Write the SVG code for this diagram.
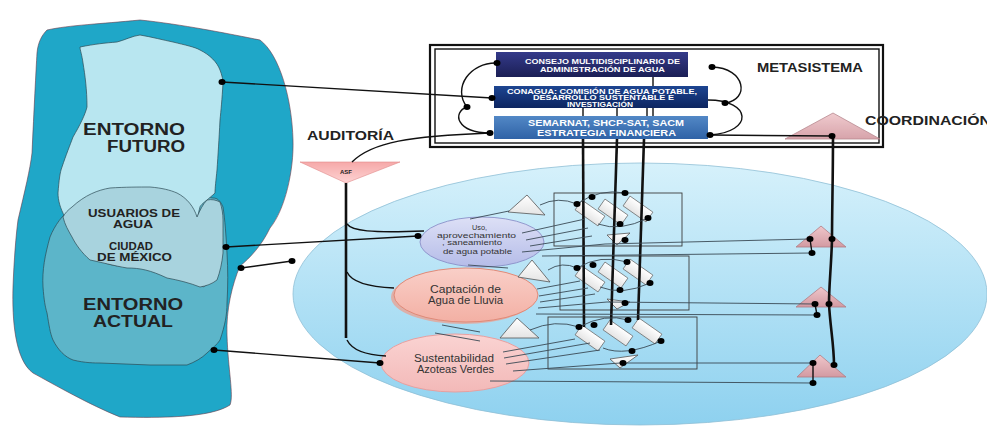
<svg xmlns="http://www.w3.org/2000/svg" width="987" height="427" viewBox="0 0 987 427">
<defs>
<linearGradient id="gBig" x1="0" y1="0" x2="0" y2="1"><stop offset="0" stop-color="#d6f1fb"/><stop offset="1" stop-color="#8ed1ef"/></linearGradient>
<linearGradient id="gE1" x1="0" y1="0" x2="0" y2="1"><stop offset="0" stop-color="#dde0f6"/><stop offset="1" stop-color="#b5bce8"/></linearGradient>
<linearGradient id="gE2" x1="0" y1="0" x2="0" y2="1"><stop offset="0" stop-color="#f9cfc8"/><stop offset="1" stop-color="#f3b0a4"/></linearGradient>
<linearGradient id="gE3" x1="0" y1="0" x2="0" y2="1"><stop offset="0" stop-color="#fad3d2"/><stop offset="1" stop-color="#f3b9b8"/></linearGradient>
<linearGradient id="gPink" x1="0" y1="0" x2="0" y2="1"><stop offset="0" stop-color="#efc6ca"/><stop offset="1" stop-color="#d39aa2"/></linearGradient>
<linearGradient id="gAsf" x1="0" y1="0" x2="0" y2="1"><stop offset="0" stop-color="#f6a9a9"/><stop offset="1" stop-color="#fdd3d3"/></linearGradient>
<linearGradient id="gB1" x1="0" y1="0" x2="0" y2="1"><stop offset="0" stop-color="#343a8a"/><stop offset="1" stop-color="#1b1f55"/></linearGradient>
<linearGradient id="gB2" x1="0" y1="0" x2="0" y2="1"><stop offset="0" stop-color="#1d4591"/><stop offset="1" stop-color="#0d2560"/></linearGradient>
<linearGradient id="gB3" x1="0" y1="0" x2="0" y2="1"><stop offset="0" stop-color="#5288c6"/><stop offset="1" stop-color="#2f62a6"/></linearGradient>
<linearGradient id="gW" x1="0" y1="0" x2="0" y2="1"><stop offset="0" stop-color="#ffffff"/><stop offset="1" stop-color="#e4e4e4"/></linearGradient>
</defs>
<style>
.bt{font-family:"Liberation Sans",Arial,sans-serif;font-weight:bold;fill:#222}
.wt{font-family:"Liberation Sans",Arial,sans-serif;font-weight:bold;fill:#ffffff}
.et{font-family:"Liberation Sans",Arial,sans-serif;fill:#333}
.ln{fill:none;stroke:#111;stroke-width:1.4}
.thin{fill:none;stroke:#3a4a55;stroke-width:0.9}
.thick{fill:none;stroke:#111;stroke-width:2.6}
.dot{fill:#000}
.gr{fill:none;stroke:#3c3c3c;stroke-width:0.9}
.tr{fill:url(#gW);stroke:#666;stroke-width:0.7}
.wtri{fill:url(#gW);stroke:#555;stroke-width:0.8}
.ptri{fill:url(#gPink);stroke:#b07c84;stroke-width:0.8}
</style>
<rect width="987" height="427" fill="#ffffff"/>

<g id="entorno">
<path d="M47,30 C70,25 100,24 140,20 C180,24 230,34 260,40 C280,55 292,100 293,140 C294,170 285,210 270,228 C262,245 250,258 240,266 C232,285 226,310 227,335 C228,370 234,395 230,405 C210,418 160,418 120,417 C90,405 55,385 33,373 C15,360 12,320 13,287 C14,260 16,235 18,220 C25,190 30,170 32,153 C34,110 36,70 37,53 C38,42 42,35 47,30 Z" fill="#1fa7c8" stroke="#6a3a4a" stroke-width="0.6"/>
<path d="M73,207 C62,215 55,225 50,237 C45,255 42,270 43,287 C44,300 45,306 47,313 C49,325 50,333 53,340 C58,350 65,357 73,360 C85,363 95,363 100,363 L150,365 L187,365 C195,362 202,358 207,353 C212,348 217,345 220,340 C225,325 227,315 227,303 C228,285 228,270 227,253 C226,235 225,220 223,207 C220,200 217,198 213,198 C190,195 150,190 110,190 C95,192 82,198 73,207 Z" fill="#5cb5c9" stroke="#2d4a55" stroke-width="0.7"/>
<path d="M80,47 C95,44 105,43 117,42 C125,40 132,36 140,35 C152,37 163,40 173,42 C185,45 195,47 200,50 C210,55 217,62 220,70 C222,75 223,80 223,83 C222,100 221,110 220,120 C219,140 218,155 217,170 C216,180 215,188 215,193 C212,196 209,198 207,200 C203,203 200,206 200,207 C199,211 198,214 198,217 L215,230 L215,280 L203,287 C192,277 180,270 167,268 L127,267 C115,266 105,264 100,260 C90,252 84,246 80,240 C72,230 67,223 65,217 C60,208 58,200 58,193 C59,180 60,172 62,167 C66,155 70,145 73,137 C80,125 85,115 87,107 C87,90 85,75 83,63 C82,55 80,50 80,47 Z" fill="#b8e6f0" stroke="#2d4a55" stroke-width="0.7"/>
<path d="M72,207 C85,195 98,190 110,188 C125,187 140,187 150,187 C162,188 170,190 177,193 C187,198 194,207 197,217 C200,210 203,204 207,200 C212,199 216,200 220,202 C222,208 223,214 223,220 C223,232 223,243 223,253 C222,263 220,272 217,280 C212,284 206,286 200,287 C190,283 178,280 167,278 C150,270 140,268 127,268 C115,266 100,262 90,260 C82,253 76,245 72,237 C68,230 65,225 63,217 C65,213 68,210 72,207 Z" fill="#a8d3de" stroke="#2d4a55" stroke-width="0.7"/>
<text class="bt" x="83" y="135" font-size="16" textLength="102" lengthAdjust="spacingAndGlyphs">ENTORNO</text>
<text class="bt" x="107" y="152" font-size="16" textLength="78" lengthAdjust="spacingAndGlyphs">FUTURO</text>
<text class="bt" x="88" y="217" font-size="10" fill="#333" textLength="92" lengthAdjust="spacingAndGlyphs">USUARIOS DE</text>
<text class="bt" x="113" y="228" font-size="10" textLength="40" lengthAdjust="spacingAndGlyphs">AGUA</text>
<text class="bt" x="109" y="250" font-size="10" textLength="44" lengthAdjust="spacingAndGlyphs">CIUDAD</text>
<text class="bt" x="97" y="261" font-size="10" textLength="75" lengthAdjust="spacingAndGlyphs">DE MÉXICO</text>
<text class="bt" x="83" y="310" font-size="16" textLength="100" lengthAdjust="spacingAndGlyphs">ENTORNO</text>
<text class="bt" x="93" y="327" font-size="16" textLength="80" lengthAdjust="spacingAndGlyphs">ACTUAL</text>
</g>

<g id="sistema">
<ellipse cx="640" cy="294" rx="347" ry="131" fill="url(#gBig)" stroke="#8fbfd6" stroke-width="0.8"/>
</g>

<g id="metasistema">
<rect x="430" y="45" width="453" height="102" fill="#ffffff" stroke="#111" stroke-width="2.2"/>
<rect x="435" y="49" width="444" height="94" fill="none" stroke="#111" stroke-width="1.4"/>
<text class="bt" x="757" y="72" font-size="12" fill="#111" textLength="106" lengthAdjust="spacingAndGlyphs">METASISTEMA</text>
</g>

<g id="consejo">
<rect x="496" y="52" width="192" height="25" fill="url(#gB1)"/>
<text class="wt" x="525" y="63.5" font-size="7.2" textLength="155" lengthAdjust="spacingAndGlyphs">CONSEJO MULTIDISCIPLINARIO DE</text>
<text class="wt" x="540" y="71.5" font-size="7.2" textLength="125" lengthAdjust="spacingAndGlyphs">ADMINISTRACIÓN DE AGUA</text>
</g>
<g id="conagua">
<rect x="494" y="86" width="214" height="22" fill="url(#gB2)"/>
<text class="wt" x="507" y="93.5" font-size="6.8" textLength="190" lengthAdjust="spacingAndGlyphs">CONAGUA: COMISIÓN DE AGUA POTABLE,</text>
<text class="wt" x="533" y="100" font-size="6.8" textLength="141" lengthAdjust="spacingAndGlyphs">DESARROLLO SUSTENTABLE E</text>
<text class="wt" x="567" y="106.5" font-size="6.8" textLength="66" lengthAdjust="spacingAndGlyphs">INVESTIGACIÓN</text>
</g>
<g id="semarnat">
<rect x="494" y="116" width="214" height="23" fill="url(#gB3)"/>
<text class="wt" x="528" y="126" font-size="9.5" textLength="156" lengthAdjust="spacingAndGlyphs">SEMARNAT, SHCP-SAT, SACM</text>
<text class="wt" x="537" y="135.5" font-size="9.5" textLength="139" lengthAdjust="spacingAndGlyphs">ESTRATEGIA FINANCIERA</text>
</g>

<g id="coordinacion">
<polygon class="ptri" points="833,113 785,139 880,139" opacity="0.9"/>
<text class="bt" x="865" y="125" font-size="12" fill="#111" textLength="126" lengthAdjust="spacingAndGlyphs">COORDINACIÓN</text>
</g>

<g id="auditoria">
<text class="bt" x="307" y="140" font-size="12.5" fill="#111" textLength="87" lengthAdjust="spacingAndGlyphs">AUDITORÍA</text>
<polygon points="300,162 400,162 346,183" fill="url(#gAsf)" stroke="#e08a8a" stroke-width="0.6"/>
<text class="bt" x="346" y="174" font-size="6" text-anchor="middle" fill="#222">ASF</text>
</g>

<g id="uso">
<ellipse cx="482" cy="242" rx="62" ry="25" fill="url(#gE1)" stroke="#8a90c8" stroke-width="0.9"/>
<text class="et" x="472" y="230" font-size="8" textLength="15" lengthAdjust="spacingAndGlyphs">Uso,</text>
<text class="et" x="437" y="237.5" font-size="8" textLength="79" lengthAdjust="spacingAndGlyphs">aprovechamiento</text>
<text class="et" x="442" y="245" font-size="8" textLength="60" lengthAdjust="spacingAndGlyphs">, saneamiento</text>
<text class="et" x="443" y="253.5" font-size="8" textLength="69" lengthAdjust="spacingAndGlyphs">de agua potable</text>
</g>
<g id="captacion">
<ellipse cx="463" cy="297" rx="72" ry="27" fill="#e9a496" opacity="0.8"/>
<ellipse cx="466" cy="295" rx="72" ry="27" fill="url(#gE2)" stroke="#e08a78" stroke-width="1"/>
<text class="et" x="430" y="293" font-size="10" textLength="71" lengthAdjust="spacingAndGlyphs">Captación de</text>
<text class="et" x="428" y="303.5" font-size="10" textLength="75" lengthAdjust="spacingAndGlyphs">Agua de Lluvia</text>
</g>
<g id="sustentabilidad">
<ellipse cx="455" cy="363" rx="74" ry="29" fill="url(#gE3)" stroke="#e7a0a0" stroke-width="1"/>
<text class="et" x="414" y="362" font-size="10" textLength="80" lengthAdjust="spacingAndGlyphs">Sustentabilidad</text>
<text class="et" x="417" y="372.5" font-size="10" textLength="77" lengthAdjust="spacingAndGlyphs">Azoteas Verdes</text>
</g>

<g id="grupo1">
<rect x="554" y="193" width="128" height="53" class="gr"/>
<polygon class="wtri" points="508,212 527,195 545,215"/>
<rect class="tr" x="-14" y="-6" width="28" height="12" transform="translate(590,213) rotate(35)"/>
<rect class="tr" x="-14" y="-6" width="28" height="12" transform="translate(613,212) rotate(35)"/>
<rect class="tr" x="-14" y="-6" width="28" height="12" transform="translate(638,209) rotate(35)"/>
<polygon class="wtri" points="607,235 630,233 617,245"/>
</g>
<g id="grupo2">
<rect x="560" y="256" width="129" height="54" class="gr"/>
<polygon class="wtri" points="518,277 532,260 550,282"/>
<rect class="tr" x="-14" y="-6" width="28" height="12" transform="translate(590,279) rotate(35)"/>
<rect class="tr" x="-14" y="-6" width="28" height="12" transform="translate(613,275) rotate(35)"/>
<rect class="tr" x="-14" y="-6" width="28" height="12" transform="translate(638,272) rotate(35)"/>
<polygon class="wtri" points="607,299 630,302 617,309"/>
</g>
<g id="grupo3">
<rect x="548" y="317" width="149" height="52" class="gr"/>
<polygon class="wtri" points="500,338 517,318 539,338"/>
<rect class="tr" x="-14" y="-6" width="28" height="12" transform="translate(590,338) rotate(35)"/>
<rect class="tr" x="-14" y="-6" width="28" height="12" transform="translate(618,333) rotate(35)"/>
<rect class="tr" x="-14" y="-6" width="28" height="12" transform="translate(647,331) rotate(35)"/>
<polygon class="wtri" points="610,359 638,355 620,368"/>
</g>

<g id="triangulos">
<polygon class="ptri" points="821,226 796,247 846,247"/>
<polygon class="ptri" points="821,287 796,307 846,307"/>
<polygon class="ptri" points="820,355 797,377 846,377"/>
</g>

<g id="conectores">
<path class="ln" d="M222,82 L492,98"/>
<path class="ln" d="M226,247 L418,236"/>
<path class="ln" d="M241,268 L292,261"/>
<path class="ln" d="M214,350 L380,363"/>
<path class="ln" d="M497,63 C470,62 452,88 467,107"/>
<path class="ln" d="M467,107 C452,112 456,133 490,133"/>
<path class="ln" d="M712,67 C746,68 750,100 725,103"/>
<path class="ln" d="M708,100 C752,100 754,132 710,135"/>
<path class="ln" d="M710,135 L832,136"/>
<path class="ln" d="M653,77 L653,86 M583,108 L583,116 M617,108 L617,116 M647,108 L647,116 M653,108 L653,116" stroke="#555" stroke-width="1.6"/>
<path class="ln" d="M352,162 C372,142 410,136 490,133"/>
<path class="thick" d="M346,183 L346,338"/>
<path class="ln" d="M347,224 C352,231 370,233 424,231"/>
<path class="ln" d="M347,272 C352,283 370,287 394,288"/>
<path class="ln" d="M347,340 C352,350 365,355 386,356"/>
<path class="thick" d="M583,139 L584,327"/>
<path class="thick" d="M617,139 L611,325"/>
<path class="thick" d="M644,139 L638,320"/>
<path class="thick" d="M833,136 C833,180 832,210 832,240 C831,270 829,285 829,304 C830,325 834,345 834,365" stroke-width="3"/>
<path class="thin" d="M470,219 L509,211"/>
<path class="thin" d="M540,205 Q558,196 577,204"/>
<path class="thin" d="M577,204 Q600,188 625,193"/>
<path class="thin" d="M598,224 Q620,232 648,218"/>
<path class="thin" d="M522,233 L585,219 M526,240 L588,228 M530,246 L592,236"/>
<path class="thin" d="M522,252 L605,244 L810,239"/>
<path class="thin" d="M542,256 L812,253"/>
<path class="thin" d="M468,265 L508,268"/>
<path class="thin" d="M548,270 Q562,261 577,268"/>
<path class="thin" d="M577,268 Q600,254 627,262"/>
<path class="thin" d="M600,287 Q622,296 650,283"/>
<path class="thin" d="M537,289 L580,281 M539,296 L588,288 M540,302 L595,294"/>
<path class="thin" d="M538,308 L607,302 L815,304"/>
<path class="thin" d="M536,314 L817,315"/>
<path class="thin" d="M442,325 L480,332 M435,333 L480,341"/>
<path class="thin" d="M530,330 Q555,319 579,327"/>
<path class="thin" d="M579,327 Q605,313 628,320"/>
<path class="thin" d="M603,348 Q625,357 661,341"/>
<path class="thin" d="M503,352 L575,339 M504,358 L590,343 M506,364 L600,350"/>
<path class="thin" d="M513,371 L620,363 L813,363"/>
<path class="thin" d="M490,381 L813,383"/>
<path class="ln" d="M810,239 L812,253 M815,304 L817,315 M813,363 L813,383"/>
</g>

<g id="puntos">
<ellipse class="dot" cx="222" cy="82" rx="3.5" ry="3"/>
<ellipse class="dot" cx="492" cy="98" rx="3.5" ry="3"/>
<ellipse class="dot" cx="226" cy="247" rx="3.5" ry="3"/>
<ellipse class="dot" cx="418" cy="236" rx="3.5" ry="3"/>
<ellipse class="dot" cx="241" cy="268" rx="3.5" ry="3"/>
<ellipse class="dot" cx="292" cy="261" rx="3.5" ry="3"/>
<ellipse class="dot" cx="214" cy="350" rx="3.5" ry="3"/>
<ellipse class="dot" cx="380" cy="363" rx="3.5" ry="3"/>
<ellipse class="dot" cx="497" cy="63" rx="3.5" ry="3"/>
<ellipse class="dot" cx="467" cy="107" rx="3.5" ry="3"/>
<ellipse class="dot" cx="490" cy="133" rx="3.5" ry="3"/>
<ellipse class="dot" cx="712" cy="67" rx="3.5" ry="3"/>
<ellipse class="dot" cx="725" cy="103" rx="3.5" ry="3"/>
<ellipse class="dot" cx="710" cy="135" rx="3.5" ry="3"/>
<ellipse class="dot" cx="832" cy="136" rx="3.5" ry="3"/>
<ellipse class="dot" cx="577" cy="204" rx="3.5" ry="3"/>
<ellipse class="dot" cx="592" cy="197" rx="3.5" ry="3"/>
<ellipse class="dot" cx="625" cy="193" rx="3.5" ry="3"/>
<ellipse class="dot" cx="648" cy="218" rx="3.5" ry="3"/>
<ellipse class="dot" cx="620" cy="224" rx="3.5" ry="3"/>
<ellipse class="dot" cx="625" cy="240" rx="3.5" ry="3"/>
<ellipse class="dot" cx="577" cy="268" rx="3.5" ry="3"/>
<ellipse class="dot" cx="593" cy="265" rx="3.5" ry="3"/>
<ellipse class="dot" cx="627" cy="262" rx="3.5" ry="3"/>
<ellipse class="dot" cx="650" cy="283" rx="3.5" ry="3"/>
<ellipse class="dot" cx="620" cy="290" rx="3.5" ry="3"/>
<ellipse class="dot" cx="625" cy="303" rx="3.5" ry="3"/>
<ellipse class="dot" cx="579" cy="327" rx="3.5" ry="3"/>
<ellipse class="dot" cx="594" cy="325" rx="3.5" ry="3"/>
<ellipse class="dot" cx="628" cy="320" rx="3.5" ry="3"/>
<ellipse class="dot" cx="661" cy="341" rx="3.5" ry="3"/>
<ellipse class="dot" cx="632" cy="351" rx="3.5" ry="3"/>
<ellipse class="dot" cx="623" cy="363" rx="3.5" ry="3"/>
<ellipse class="dot" cx="810" cy="239" rx="3.5" ry="3"/>
<ellipse class="dot" cx="832" cy="239" rx="3.5" ry="3"/>
<ellipse class="dot" cx="812" cy="253" rx="3.5" ry="3"/>
<ellipse class="dot" cx="815" cy="304" rx="3.5" ry="3"/>
<ellipse class="dot" cx="829" cy="304" rx="3.5" ry="3"/>
<ellipse class="dot" cx="817" cy="315" rx="3.5" ry="3"/>
<ellipse class="dot" cx="813" cy="363" rx="3.5" ry="3"/>
<ellipse class="dot" cx="834" cy="365" rx="3.5" ry="3"/>
<ellipse class="dot" cx="813" cy="383" rx="3.5" ry="3"/>
</g>
</svg>
